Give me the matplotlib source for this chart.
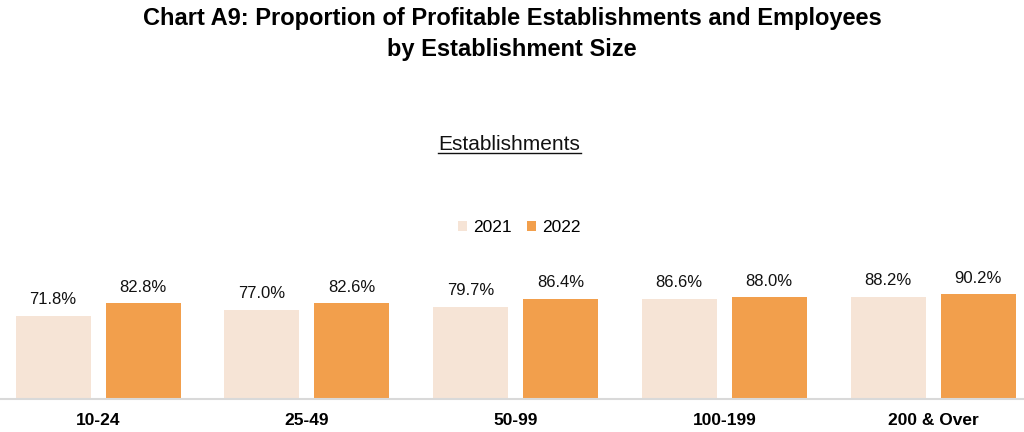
import numpy as np
import matplotlib
matplotlib.use("Agg")
import matplotlib.pyplot as plt

categories = ['10-24', '25-49', '50-99', '100-199', '200 & Over']
years = ['2021', '2022']
values_2021 = [71.8, 77.0, 79.7, 86.6, 88.2]
values_2022 = [82.8, 82.6, 86.4, 88.0, 90.2]

colors = ['#F6E4D6', '#F29F4C']

plt.rcParams['font.family'] = ['Liberation Sans', 'DejaVu Sans']

W, H = 1024, 432
fig = plt.figure(figsize=(W / 100, H / 100), dpi=100)

# axes covers the full width; baseline sits at y=399 px
ax = fig.add_axes([0, 33 / H, 1, 116 / H])
spacing = 208.75
first = 98  # pixel centre of the first group
ax.set_xlim(-first / spacing, (W - first) / spacing)
ax.set_ylim(0, 100)

x = np.arange(len(categories))
bw = 75 / spacing
off = 45 / spacing
for vals, col, dx, lab in [(values_2021, colors[0], -off, years[0]),
                            (values_2022, colors[1], off, years[1])]:
    bars = ax.bar(x + dx, vals, width=bw, color=col, label=lab, zorder=2)
    for b, v in zip(bars, vals):
        ax.annotate(f'{v:.1f}%', (b.get_x() + b.get_width() / 2, v),
                    xytext=(0, 6), textcoords='offset points',
                    ha='center', va='bottom', fontsize=12, color='#111111')

for s in ['top', 'right', 'left']:
    ax.spines[s].set_visible(False)
ax.spines['bottom'].set_color('#D9D9D9')
ax.spines['bottom'].set_linewidth(1.5)
ax.set_yticks([])
ax.set_xticks(x)
ax.set_xticklabels(categories, fontsize=12.5, fontweight='bold')
ax.tick_params(axis='x', length=0, pad=10)

fig.text(0.5, 1 - 7 / H, 'Chart A9: Proportion of Profitable Establishments and Employees\nby Establishment Size',
         ha='center', va='top', fontsize=17, fontweight='bold', linespacing=1.45)
fig.text(509 / W, 1 - 145 / H, 'Establishments', ha='center', va='center',
         fontsize=15, color='#111111')
fig.add_artist(plt.Line2D([438 / W, 581 / W], [1 - 153 / H, 1 - 153 / H],
                          color='#111111', linewidth=1))

leg = fig.legend(loc='center', bbox_to_anchor=(519 / W, 1 - 228 / H), ncol=2,
                 frameon=False, fontsize=12.5, handlelength=0.5, handleheight=0.5,
                 handletextpad=0.35, columnspacing=0.9)

fig.savefig('out.png', dpi=100)
